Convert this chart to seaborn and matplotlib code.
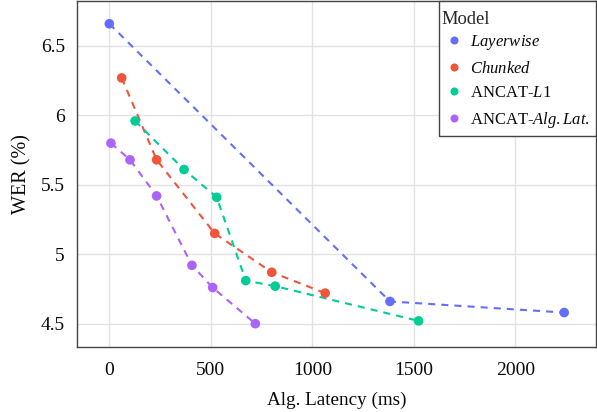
import matplotlib
matplotlib.use("Agg")
import matplotlib.pyplot as plt
from matplotlib.lines import Line2D
from matplotlib.ticker import FuncFormatter, FixedLocator
import pandas as pd
import seaborn as sns

# Measured latency / WER pairs for each model family
layerwise_latency = [0, 1382, 2240]
layerwise_wer = [6.66, 4.66, 4.58]

chunked_latency = [61, 233, 519, 800, 1063]
chunked_wer = [6.27, 5.68, 5.15, 4.87, 4.72]

ancat_l1_latency = [127, 368, 529, 672, 817, 1523]
ancat_l1_wer = [5.96, 5.61, 5.41, 4.81, 4.77, 4.52]

ancat_alglat_latency = [8, 102, 233, 407, 509, 719]
ancat_alglat_wer = [5.80, 5.68, 5.42, 4.92, 4.76, 4.50]

model_names = [
    r"$\mathit{Layerwise}$",
    r"$\mathit{Chunked}$",
    r"ANCAT-$\mathit{L1}$",
    r"ANCAT-$\mathit{Alg.Lat.}$",
]
colors = ["#636EFA", "#EF553B", "#00CC96", "#AB63FA"]

x_ticks = [0, 500, 1000, 1500, 2000]
y_ticks = [4.5, 5, 5.5, 6, 6.5]

series = [
    (layerwise_latency, layerwise_wer),
    (chunked_latency, chunked_wer),
    (ancat_l1_latency, ancat_l1_wer),
    (ancat_alglat_latency, ancat_alglat_wer),
]
rows = []
for name, (lat, wer) in zip(model_names, series):
    for a, b in zip(lat, wer):
        rows.append({"Model": name, "latency": a, "wer": b})
df = pd.DataFrame(rows)

sns.set_theme(style="white")
plt.rcParams["font.family"] = ["Liberation Serif", "DejaVu Serif"]
plt.rcParams["mathtext.fontset"] = "custom"
plt.rcParams["mathtext.rm"] = "Liberation Serif"
plt.rcParams["mathtext.it"] = "Liberation Serif:italic"

W, H = 597, 412
fig = plt.figure(figsize=(W / 100, H / 100), dpi=100)
ax = fig.add_axes([77.3 / W, 1 - 346.7 / H, (596 - 77.3) / W, (346.7 - 1) / H])

palette = dict(zip(model_names, colors))

sns.lineplot(
    data=df, x="latency", y="wer", hue="Model", hue_order=model_names,
    palette=palette, sort=False, estimator=None, legend=False,
    linewidth=1.5, linestyle=(0, (3.4, 2.9)), ax=ax, zorder=2,
)
sns.scatterplot(
    data=df, x="latency", y="wer", hue="Model", hue_order=model_names,
    palette=palette, s=48, edgecolor="none", linewidth=0, ax=ax, zorder=3,
    legend=False,
)

ax.set_xlim(-157.6, 2396.6)
ax.set_ylim(4.334, 6.824)
ax.xaxis.set_major_locator(FixedLocator(x_ticks))
ax.yaxis.set_major_locator(FixedLocator(y_ticks))
ax.yaxis.set_major_formatter(FuncFormatter(lambda v, p: f"{v:g}"))
ax.xaxis.set_major_formatter(FuncFormatter(lambda v, p: f"{v:g}"))

ax.grid(True, color="#e3e3e3", linewidth=1.0)
ax.set_axisbelow(True)
for sp in ax.spines.values():
    sp.set_color("#444444")
    sp.set_linewidth(1.0)
ax.tick_params(axis="both", which="major", length=5, width=1, color="#dddddd",
               labelsize=14, labelcolor="#0a0a0a", pad=4, direction="out")
ax.tick_params(axis="x", pad=6)

ax.set_xlabel("Alg. Latency (ms)", fontsize=13.8, color="#0a0a0a", labelpad=9)
ax.set_ylabel("WER (%)", fontsize=14.5, color="#0a0a0a", labelpad=6.5)

handles = [
    Line2D([], [], linestyle="none", marker="o", markersize=5.8,
           markerfacecolor=c, markeredgewidth=0)
    for c in colors
]
leg = ax.legend(
    handles, model_names,
    title="Model", loc="upper right", bbox_to_anchor=(1.0, 1.0),
    borderaxespad=0, frameon=True, fancybox=False, fontsize=12,
    title_fontsize=13.3, alignment="left", handletextpad=0.43,
    labelspacing=0.51, borderpad=0.4, handlelength=1.03,
)
leg.get_frame().set_edgecolor("#444444")
leg.get_frame().set_linewidth(1.0)
leg.get_frame().set_alpha(1)
for t in leg.get_texts():
    t.set_color("#0a0a0a")
# nudge the title a little left and down inside its box
leg.get_title().set_x(-4)
leg.get_title().set_y(-3)

fig.savefig("out.png", dpi=100)
